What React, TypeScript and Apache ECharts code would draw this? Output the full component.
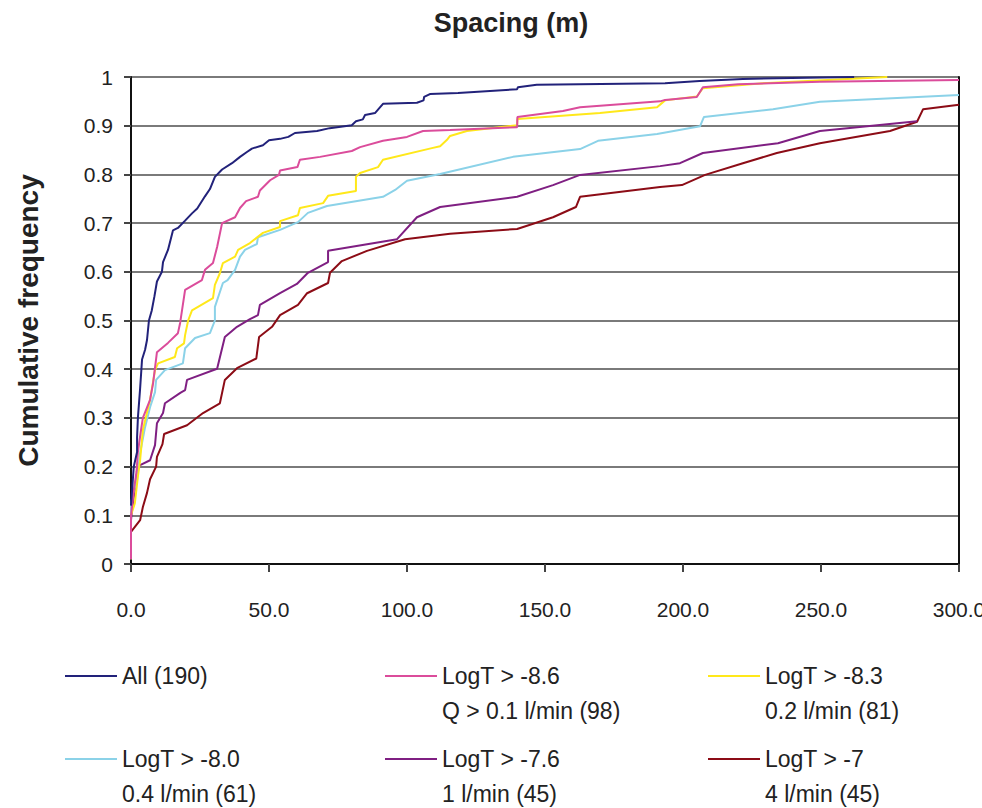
import React, { useEffect, useRef } from "react";
import * as echarts from "echarts";

const FONT = "'Liberation Sans', Arial, sans-serif";

const seriesNames = [
  "All (190)",
  "LogT > -8.6\nQ > 0.1 l/min (98)",
  "LogT > -8.3\n0.2 l/min (81)",
  "LogT > -8.0\n0.4 l/min (61)",
  "LogT > -7.6\n1 l/min (45)",
  "LogT > -7\n4 l/min (45)",
];
const seriesColors = ["#22227A", "#DB4C9B", "#FFE81A", "#8BD2E8", "#7F1F82", "#8C0C16"];

const allData = [
  [0, 0.12], [0.5, 0.16], [1.0, 0.2], [2.2, 0.23], [2.2, 0.26], [2.5, 0.3], [3.3, 0.36], [4.0, 0.42],
  [5.1, 0.44], [5.8, 0.46], [6.5, 0.5], [7.5, 0.52], [8.5, 0.55], [9.4, 0.58], [11.2, 0.6], [11.6, 0.62],
  [13.4, 0.645], [15.2, 0.685], [17, 0.69], [19.6, 0.705], [22.1, 0.72], [24, 0.73], [26.8, 0.755],
  [28.6, 0.77], [30.4, 0.795], [33, 0.81], [36.6, 0.823], [39.5, 0.836], [42, 0.846], [43.8, 0.853],
  [47.8, 0.86], [50, 0.87], [54, 0.873], [57, 0.877], [59.4, 0.885], [67.4, 0.889], [72, 0.895],
  [80, 0.901], [81.5, 0.909], [84, 0.913], [84.8, 0.922], [88.4, 0.926], [91.3, 0.945], [103.6, 0.947],
  [106, 0.952], [106.2, 0.959], [108.3, 0.965], [118.5, 0.967], [139.9, 0.975], [140.2, 0.979],
  [147, 0.984], [193.5, 0.987], [206, 0.992], [221.7, 0.996], [250, 0.999], [262, 1.0],
];

const q01Data = [
  [0, 0.01], [0, 0.1], [1, 0.15], [2, 0.19], [2.5, 0.23], [3.5, 0.27], [4.3, 0.3], [6.9, 0.337],
  [8, 0.371], [9.4, 0.435], [13.4, 0.454], [17, 0.474], [17.8, 0.495], [19.6, 0.563], [25.7, 0.583],
  [26.8, 0.604], [29.7, 0.618], [31.2, 0.651], [33, 0.7], [37.7, 0.712], [39.5, 0.731], [41.7, 0.745],
  [46, 0.754], [46.7, 0.767], [50.4, 0.788], [53.6, 0.799], [54, 0.808], [60.3, 0.815], [61.2, 0.83],
  [68.5, 0.836], [80, 0.848], [83, 0.856], [91.3, 0.869], [100, 0.877], [105.8, 0.889], [115.6, 0.891],
  [139.9, 0.897], [140, 0.918], [156.5, 0.93], [162.7, 0.938], [191.7, 0.95], [193.5, 0.953],
  [205, 0.959], [207.2, 0.979], [220, 0.985], [249.6, 0.99], [300, 0.994],
];

const q02Data = [
  [0, 0.01], [0, 0.1], [1.4, 0.125], [2.5, 0.18], [3.3, 0.213], [4.3, 0.275], [6.9, 0.337], [8.7, 0.398],
  [9.8, 0.412], [15.9, 0.425], [16.7, 0.443], [19.2, 0.453], [19.6, 0.47], [20.7, 0.5], [22.1, 0.521],
  [29.7, 0.546], [30.4, 0.573], [32.2, 0.597], [33.3, 0.618], [37.7, 0.631], [38.8, 0.645], [43.1, 0.659],
  [47.8, 0.68], [54, 0.692], [54, 0.704], [60.5, 0.716], [61.2, 0.731], [69.6, 0.741], [71.4, 0.756],
  [81.5, 0.766], [81.5, 0.795], [83, 0.803], [89.5, 0.815], [91.3, 0.83], [109, 0.854], [112, 0.858],
  [114.5, 0.871], [115.6, 0.879], [121.7, 0.889], [139.9, 0.901], [140, 0.914], [169.9, 0.926],
  [190.6, 0.938], [193.5, 0.952], [205, 0.96], [207.2, 0.977], [229, 0.987], [274, 1.0],
];

const q04Data = [
  [0, 0.01], [0, 0.12], [0.5, 0.141], [2.2, 0.172], [3.3, 0.228], [5.1, 0.281], [6.9, 0.322], [8.7, 0.353],
  [9.1, 0.378], [12.3, 0.398], [18.8, 0.412], [19.6, 0.443], [23.2, 0.464], [28.6, 0.474], [30.4, 0.5],
  [30.4, 0.528], [33.3, 0.577], [35, 0.583], [37.7, 0.604], [39.5, 0.631], [41.3, 0.645], [45.6, 0.657],
  [46, 0.671], [54, 0.686], [60.5, 0.702], [64.1, 0.721], [71, 0.735], [91.3, 0.754], [95.7, 0.768],
  [100, 0.787], [112, 0.801], [138.4, 0.836], [162.7, 0.852], [169.2, 0.869], [190.6, 0.883],
  [206.2, 0.899], [207.6, 0.918], [232.6, 0.934], [249.6, 0.949], [300, 0.963],
];

const q1Data = [
  [0, 0.09], [0.5, 0.117], [2.5, 0.197], [3.3, 0.203], [6.9, 0.213], [8.7, 0.244], [9.4, 0.289],
  [11.6, 0.31], [12.3, 0.33], [18, 0.352], [19.6, 0.357], [20.3, 0.378], [31.2, 0.401], [34, 0.466],
  [38.4, 0.487], [43.1, 0.503], [46, 0.511], [46.7, 0.532], [54, 0.556], [60.1, 0.575], [64.1, 0.598],
  [71.4, 0.62], [71.4, 0.643], [96.4, 0.667], [103.6, 0.712], [112, 0.733], [139.9, 0.754],
  [152.9, 0.778], [162.7, 0.799], [191.7, 0.817], [198.9, 0.823], [207.2, 0.844], [234.4, 0.864],
  [249.6, 0.889], [284.8, 0.909],
];

const q4Data = [
  [0, 0.014], [0, 0.066], [3.3, 0.09], [4.3, 0.117], [5.8, 0.146], [6.9, 0.174], [9.1, 0.2], [9.4, 0.22],
  [11.4, 0.246], [12, 0.267], [20.3, 0.285], [26.1, 0.31], [32.2, 0.33], [34, 0.378], [38.4, 0.402],
  [45.4, 0.422], [46.4, 0.466], [51.1, 0.487], [54, 0.511], [60.5, 0.532], [63.8, 0.556], [71.4, 0.577],
  [72.1, 0.598], [76.4, 0.622], [85.5, 0.643], [99.3, 0.667], [115.6, 0.678], [139.9, 0.688],
  [152.9, 0.712], [161.2, 0.733], [162.7, 0.754], [191.7, 0.774], [199.6, 0.778], [208, 0.799],
  [221.7, 0.823], [234, 0.844], [249.6, 0.864], [275, 0.889], [284.8, 0.908], [287, 0.934], [300, 0.943],
];

const seriesData = [allData, q01Data, q02Data, q04Data, q1Data, q4Data];

// legend layout: [left, iconCenterY]
const legendSlots = [
  [65, 676], [385, 676], [708, 676],
  [65, 759], [385, 759], [708, 759],
];

export default function App() {
  const ref = useRef<HTMLDivElement>(null);

  useEffect(() => {
    if (!ref.current) return;
    const chart = echarts.init(ref.current, null, { renderer: "svg" });
    const LH = 35;
    const legends = seriesNames.map((name, i) => {
      const multi = name.includes("\n");
      const lines = multi ? 3 : 1;
      const [left, cy] = legendSlots[i];
      return {
        data: [name],
        left,
        top: cy - (lines * LH) / 2,
        orient: "horizontal",
        icon: "rect",
        itemWidth: 52,
        itemHeight: 2,
        padding: 0,
        selectedMode: false,
        formatter: (n: string) => (n.includes("\n") ? "\n" + n : n),
        textStyle: { fontFamily: FONT, fontSize: 23, color: "#222", lineHeight: LH },
      };
    });

    chart.setOption({
      animation: false,
      backgroundColor: "#fff",
      textStyle: { fontFamily: FONT },
      title: {
        text: "Spacing (m)",
        left: 506,
        top: 4,
        textAlign: "center",
        textStyle: { fontFamily: FONT, fontSize: 27, fontWeight: "bold", color: "#222" },
      },
      legend: legends,
      grid: { left: 131, right: 23, top: 77, bottom: 244, containLabel: false, outerBoundsMode: "none" },
      xAxis: {
        type: "value",
        min: 0,
        max: 300,
        interval: 50,
        axisLine: { show: true, lineStyle: { color: "#111", width: 2 } },
        axisTick: { show: true, length: 8, lineStyle: { color: "#444", width: 2 } },
        splitLine: { show: false },
        axisLabel: {
          margin: 35,
          fontFamily: FONT,
          fontSize: 21,
          color: "#222",
          formatter: (v: number) => v.toFixed(1),
        },
      },
      yAxis: [
        {
          type: "value",
          min: 0,
          max: 1,
          interval: 0.1,
          name: "Cumulative frequency",
          nameLocation: "middle",
          nameGap: 89,
          nameTextStyle: { fontFamily: FONT, fontSize: 28, fontWeight: "bold", color: "#222" },
          axisLine: { show: true, lineStyle: { color: "#111", width: 2 } },
          axisTick: { show: true, length: 7, lineStyle: { color: "#444", width: 2 } },
          splitLine: { show: true, lineStyle: { color: "#7a7a7a", width: 2 } },
          axisLabel: {
            margin: 18,
            fontFamily: FONT,
            fontSize: 21,
            color: "#222",
            formatter: (v: number) => String(Math.round(v * 10) / 10),
          },
        },
        {
          type: "value",
          min: 0,
          max: 1,
          interval: 0.1,
          position: "right",
          axisLine: { show: true, lineStyle: { color: "#111", width: 2 } },
          axisTick: { show: false },
          axisLabel: { show: false },
          splitLine: { show: false },
        },
      ],
      series: seriesNames.map((name, i) => ({
        name,
        type: "line",
        yAxisIndex: 0,
        data: seriesData[i],
        showSymbol: false,
        symbol: "none",
        clip: true,
        lineStyle: { color: seriesColors[i], width: 2 },
        itemStyle: { color: seriesColors[i] },
        z: 10 - i,
      })),
    });
    return () => chart.dispose();
  }, []);

  return (
    <div
      ref={ref}
      style={{ position: "absolute", left: 0, top: 0, width: 982, height: 808 }}
    />
  );
}
